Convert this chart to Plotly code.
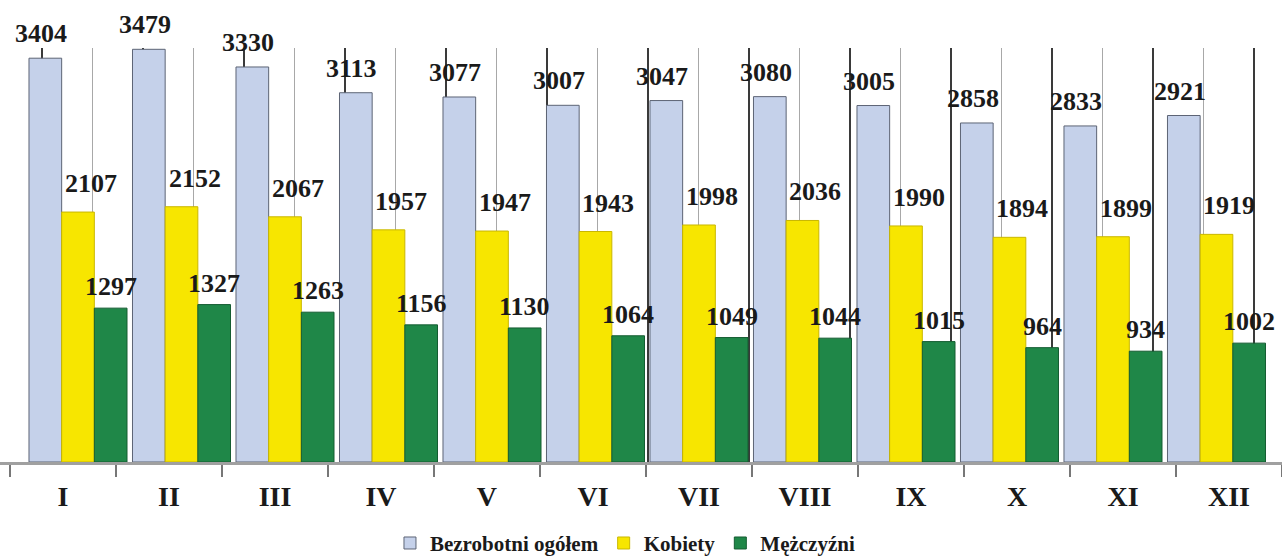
import plotly.graph_objects as go
import numpy as np

months = ["I", "II", "III", "IV", "V", "VI", "VII", "VIII", "IX", "X", "XI", "XII"]
ogolem = [3404, 3479, 3330, 3113, 3077, 3007, 3047, 3080, 3005, 2858, 2833, 2921]
kobiety = [2107, 2152, 2067, 1957, 1947, 1943, 1998, 2036, 1990, 1894, 1899, 1919]
mezczyzni = [1297, 1327, 1263, 1156, 1130, 1064, 1049, 1044, 1015, 964, 934, 1002]

series = [
    ("Bezrobotni ogółem", ogolem, "#c5d1ea", "#5d6475", -4, 8),
    ("Kobiety", kobiety, "#f7e600", "#c9b700", 13, 12),
    ("Mężczyźni", mezczyzni, "#1f8748", "#145c31", 0, 5),
]

FONT = "Liberation Serif"
pos = np.arange(len(months))

fig = go.Figure()

# invisible carriers so the label axis and the back-wall grid axis are drawn
fig.add_trace(go.Scatter(x=months, y=[0] * len(months), xaxis="x2", yaxis="y",
                         mode="markers", marker=dict(opacity=0), showlegend=False,
                         hoverinfo="skip"))
fig.add_trace(go.Scatter(x=pos, y=[0] * len(months), xaxis="x3", yaxis="y",
                         mode="markers", marker=dict(opacity=0), showlegend=False,
                         hoverinfo="skip"))

for name, vals, col, edge, xs, ys in series:
    fig.add_trace(go.Bar(
        x=pos, y=vals, name=f"<b>{name}</b>", xaxis="x", yaxis="y",
        marker=dict(color=col, line=dict(color=edge, width=1)),
    ))

annotations = []
offsets = [-1, 0, 1]
for (name, vals, col, edge, xs, ys), off in zip(series, offsets):
    for p, v in zip(pos, vals):
        annotations.append(dict(
            x=p + off * 0.3157, y=v, xref="x", yref="y", text=f"<b>{v}</b>",
            showarrow=False, yanchor="bottom", xanchor="center",
            xshift=xs, yshift=ys,
            font=dict(family=FONT, size=26, color="#1a1a1a"),
        ))

fig.update_layout(
    width=1282, height=559,
    margin=dict(l=0, r=0, t=48, b=97),
    paper_bgcolor="white", plot_bgcolor="white",
    barmode="group", bargap=0.053, bargroupgap=0,
    annotations=annotations,
    xaxis=dict(range=[-0.7536, 11.633], showgrid=False, zeroline=False,
               showticklabels=False, ticks="", showline=False),
    xaxis2=dict(type="category", categoryorder="array", categoryarray=months,
                overlaying="x", anchor="y", side="bottom",
                range=[-0.594, 11.5], tickson="boundaries", ticks="outside",
                ticklen=12, tickcolor="#777", tickwidth=2,
                showline=True, linecolor="#a0a0a0", linewidth=2.5,
                showgrid=False, zeroline=False,
                tickfont=dict(family=FONT, size=28, color="#1a1a1a"),
                ticklabelstandoff=8,
                tickvals=months, ticktext=[f"<b>{m}</b>" for m in months]),
    xaxis3=dict(overlaying="x", anchor="y", range=[-0.416, 12.277],
                tick0=0, dtick=1, showgrid=True, gridcolor="#3a3a3a", gridwidth=1.5,
                minor=dict(tick0=0.5, dtick=1, showgrid=True, gridcolor="#a8a8a8", gridwidth=1.2),
                showticklabels=False, ticks="", zeroline=False, showline=False),
    yaxis=dict(range=[0, 3490], showgrid=False, zeroline=False,
               showticklabels=False, ticks="", showline=False),
    legend=dict(orientation="h", x=0.4875, xanchor="center", yref="container",
                y=0.028, yanchor="middle",
                font=dict(family=FONT, size=21, color="#1a1a1a"),
                itemwidth=30, traceorder="normal"),
)

fig.write_html("out.html", post_script="document.body.style.margin='0';",
               config={"displayModeBar": False})
